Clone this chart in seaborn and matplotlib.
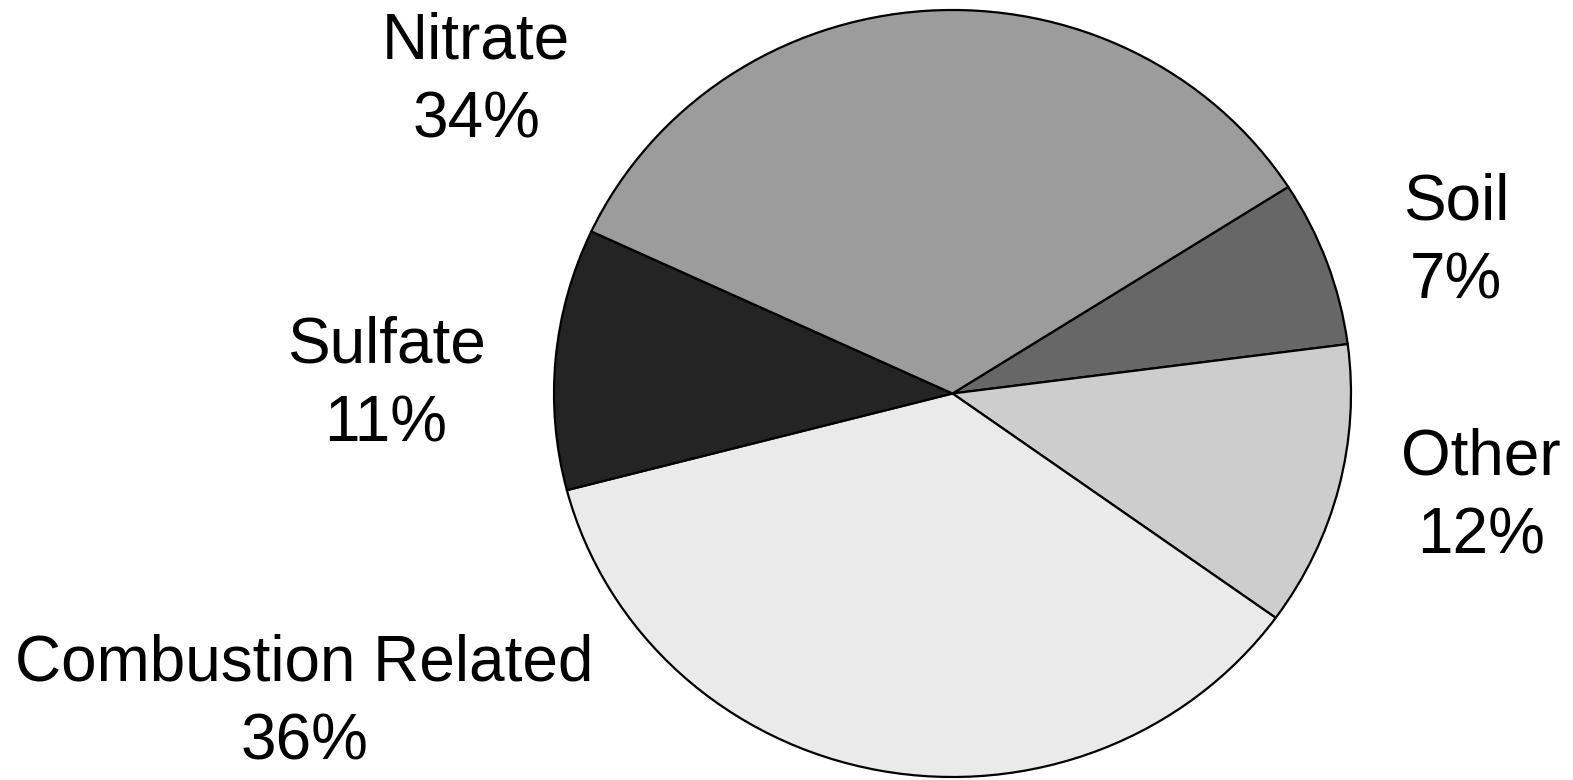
import matplotlib
matplotlib.use("Agg")
import matplotlib.pyplot as plt
import seaborn as sns

# PM2.5 source contributions
categories = ["Soil", "Other", "Combustion Related", "Sulfate", "Nitrate"]
shares = [7, 12, 36, 11, 34]
slice_colors = ["#676767", "#cdcdcd", "#eaeaea", "#242424", "#9c9c9c"]

# label centres in figure pixels (x, y from top)
label_pos = {
    "Soil": (1456, 242),
    "Other": (1481, 497),
    "Combustion Related": (304, 703),
    "Sulfate": (386, 385),
    "Nitrate": (476, 81),
}

sns.set_theme(style="white")
plt.rcParams["font.family"] = ["Liberation Sans", "DejaVu Sans"]

W, H = 1573, 780
fig = plt.figure(figsize=(W / 100, H / 100), dpi=100)
fig.patch.set_facecolor("white")

# pie occupies a slightly wide ellipse
left, right, top, bottom = 554, 1351, 10, 777
ax = fig.add_axes([left / W, 1 - bottom / H, (right - left) / W, (bottom - top) / H])
ax.pie(
    shares,
    colors=slice_colors,
    startangle=32.6,
    counterclock=False,
    wedgeprops=dict(edgecolor="black", linewidth=1.6),
)
ax.set_aspect("auto")
ax.set_xlim(-1.0, 1.0)
ax.set_ylim(-1.0, 1.0)
ax.axis("off")

for name, val in zip(categories, shares):
    x, y = label_pos[name]
    fig.text(x / W, 1 - y / H, f"{name}\n{val}%", ha="center", va="center",
             fontsize=46, linespacing=1.41, color="black")

fig.savefig("out.png", dpi=100, facecolor="white")
